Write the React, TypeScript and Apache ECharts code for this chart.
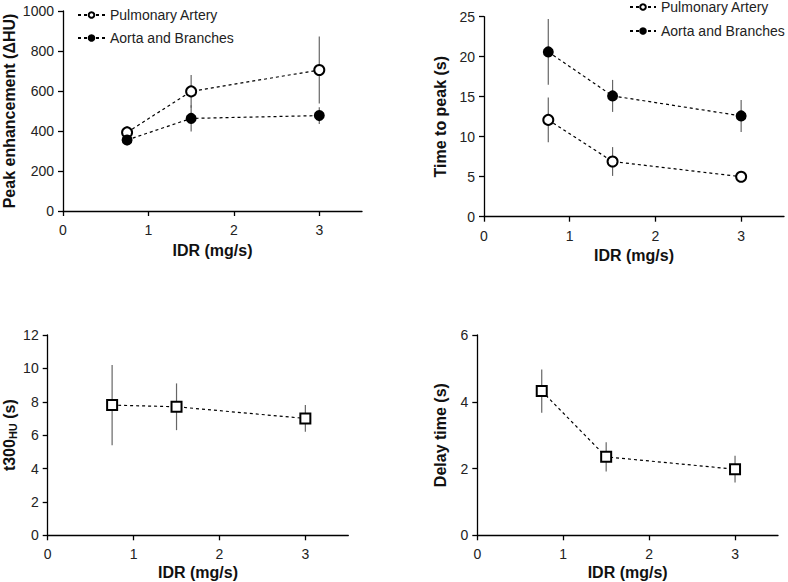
import React, { useEffect, useRef } from "react";
import * as echarts from "echarts";

const idr = [0.75, 1.5, 3];
const xTicks = [0, 1, 2, 3];

const paPeak = [393, 598, 705];
const paPeakErr = [32, 82, 168];
const aortaPeak = [355, 463, 477];
const aortaPeakErr = [28, 66, 42];

const paTtp = [12.1, 6.9, 5.0];
const paTtpErr = [2.8, 1.8, 0.3];
const aortaTtp = [20.6, 15.1, 12.6];
const aortaTtpErr = [4.1, 2.0, 2.0];

const t300 = [7.8, 7.7, 7.0];
const t300Err = [2.4, 1.4, 0.8];

const delay = [4.32, 2.35, 1.98];
const delayErr = [0.65, 0.44, 0.4];

const FONT = "Liberation Sans, Arial, sans-serif";

function pts(v: number[]) {
  return idr.map((x, i) => [x, v[i]]);
}
function errs(v: number[], e: number[]) {
  return idr.map((x, i) => [x, v[i] - e[i], v[i] + e[i]]);
}

export default function App() {
  const ref = useRef<HTMLDivElement>(null);
  useEffect(() => {
    if (!ref.current) return;
    const chart = echarts.init(ref.current, null, { renderer: "svg" });

    const grids = [
      { left: 62, top: 11, width: 300, height: 200 },
      { left: 484, top: 16.7, width: 300, height: 200 },
      { left: 47.7, top: 335, width: 300.6, height: 200.3 },
      { left: 477.3, top: 335, width: 300.7, height: 200.3 },
    ];
    const axisLine = { show: true, onZero: false, lineStyle: { color: "#000", width: 1.3 } };
    const axisTick = { show: true, length: 5, lineStyle: { color: "#000", width: 1.3 } };
    const labelStyle = { fontSize: 14, color: "#222", fontFamily: FONT };
    const nameStyle = { fontSize: 16, fontWeight: "bold" as const, color: "#111", fontFamily: FONT };

    const xAxes = grids.map((_, i) => ({
      type: "value",
      gridIndex: i,
      min: 0,
      max: 3.5,
      interval: 1,
      name: "IDR (mg/s)",
      nameLocation: "middle",
      nameGap: i < 2 ? 31 : 29,
      nameTextStyle: nameStyle,
      axisLine,
      axisTick: { ...axisTick, customValues: xTicks },
      axisLabel: { ...labelStyle, margin: 12, customValues: xTicks },
      splitLine: { show: false },
    }));

    const yConf = [
      { max: 1000, interval: 200, name: "Peak enhancement (ΔHU)", gap: 46 },
      { max: 25, interval: 5, name: "Time to peak (s)", gap: 36 },
      { max: 12, interval: 2, name: "{a|t300}{b|HU}{a| (s)}", gap: 29 },
      { max: 6, interval: 2, name: "Delay time (s)", gap: 29 },
    ];
    const yAxes = yConf.map((c, i) => ({
      type: "value",
      gridIndex: i,
      min: 0,
      max: c.max,
      interval: c.interval,
      name: c.name,
      nameLocation: "middle",
      nameGap: c.gap,
      nameTextStyle: {
        ...nameStyle,
        rich: {
          a: { fontSize: 16, fontWeight: "bold", color: "#111", fontFamily: FONT },
          b: { fontSize: 11, fontWeight: "bold", color: "#111", fontFamily: FONT, padding: [8, 0, 0, 0] },
        },
      },
      axisLine,
      axisTick,
      axisLabel: { ...labelStyle, margin: 9, formatter: (v: number) => String(v) },
      splitLine: { show: false },
    }));

    const errSeries = (idx: number, v: number[], e: number[]) => ({
      type: "custom",
      xAxisIndex: idx,
      yAxisIndex: idx,
      z: 1,
      silent: true,
      encode: { x: 0, y: [1, 2] },
      data: errs(v, e),
      renderItem: (params: any, api: any) => {
        const p1 = api.coord([api.value(0), api.value(1)]);
        const p2 = api.coord([api.value(0), api.value(2)]);
        return {
          type: "line",
          shape: { x1: p1[0], y1: p1[1], x2: p2[0], y2: p2[1] },
          style: { stroke: "#666", lineWidth: 1.2 },
        };
      },
    });

    const lineSeries = (
      idx: number,
      name: string | undefined,
      v: number[],
      symbol: string,
      size: number,
      fill: string
    ) => ({
      type: "line",
      name,
      xAxisIndex: idx,
      yAxisIndex: idx,
      z: 3,
      data: pts(v),
      symbol,
      symbolSize: size,
      showAllSymbol: true,
      lineStyle: { color: "#000", width: 1.2, type: [3, 3] },
      itemStyle: { color: fill, borderColor: "#000", borderWidth: 2 },
    });

    const legendText = { fontSize: 14, color: "#222", fontFamily: FONT };
    const option: any = {
      animation: false,
      backgroundColor: "#fff",
      textStyle: { fontFamily: FONT },
      grid: grids,
      xAxis: xAxes,
      yAxis: yAxes,
      legend: [
        {
          orient: "vertical",
          left: 77,
          top: 8,
          padding: 0,
          itemWidth: 27,
          itemHeight: 7,
          itemGap: 9,
          textStyle: legendText,
          data: ["Pulmonary Artery", "Aorta and Branches"],
        },
        {
          orient: "vertical",
          left: 629,
          top: 0,
          padding: 0,
          itemWidth: 26,
          itemHeight: 7,
          itemGap: 10,
          textStyle: legendText,
          data: ["Pulmonary Artery", "Aorta and Branches"],
        },
      ],
      series: [
        errSeries(0, paPeak, paPeakErr),
        errSeries(0, aortaPeak, aortaPeakErr),
        lineSeries(0, "Pulmonary Artery", paPeak, "circle", 10, "#fff"),
        lineSeries(0, "Aorta and Branches", aortaPeak, "circle", 9, "#000"),
        errSeries(1, paTtp, paTtpErr),
        errSeries(1, aortaTtp, aortaTtpErr),
        lineSeries(1, "Pulmonary Artery", paTtp, "circle", 10, "#fff"),
        lineSeries(1, "Aorta and Branches", aortaTtp, "circle", 9, "#000"),
        errSeries(2, t300, t300Err),
        lineSeries(2, undefined, t300, "rect", 10, "#fff"),
        errSeries(3, delay, delayErr),
        lineSeries(3, undefined, delay, "rect", 10, "#fff"),
      ],
    };
    chart.setOption(option);
    return () => chart.dispose();
  }, []);
  return (
    <div
      ref={ref}
      style={{ position: "fixed", left: 0, top: 0, width: 788, height: 582, background: "#fff" }}
    />
  );
}
